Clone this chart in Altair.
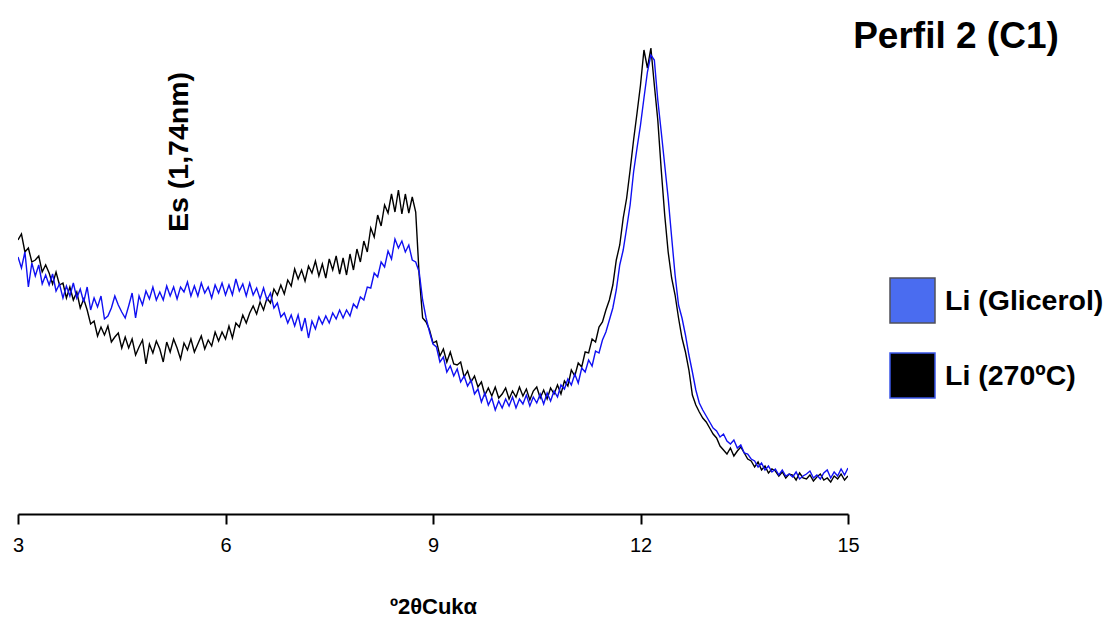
import altair as alt
import pandas as pd

# 2-theta grid of the scan (degrees), read every 0.05 deg
theta_start = 3.0
theta_step = 0.05

# Intensity (arbitrary counts), 3.00 -> 15.00 deg
li_270 = [
    274, 280, 262, 266, 252, 254, 258, 242, 249, 241,
    230, 242, 229, 231, 216, 227, 214, 222, 206, 215,
    204, 190, 193, 178, 187, 179, 188, 172, 177, 181,
    166, 177, 166, 175, 159, 167, 174, 150, 170, 161,
    173, 165, 152, 172, 162, 175, 166, 155, 171, 164,
    175, 162, 170, 178, 165, 174, 168, 182, 173, 182,
    175, 188, 176, 191, 187, 199, 191, 201, 208, 200,
    212, 204, 216, 211, 225, 219, 229, 220, 234, 228,
    245, 235, 244, 233, 248, 241, 253, 238, 250, 236,
    255, 244, 258, 240, 256, 239, 260, 244, 265, 252,
    273, 262, 286, 277, 299, 288, 309, 301, 320, 302,
    324, 300, 320, 301, 317, 302, 239, 196, 192, 184,
    171, 173, 158, 165, 152, 162, 150, 149, 152, 137,
    143, 132, 138, 127, 132, 119, 126, 118, 127, 116,
    120, 126, 115, 123, 117, 127, 118, 125, 114, 123,
    127, 116, 124, 115, 126, 120, 129, 120, 133, 128,
    144, 138, 151, 147, 162, 161, 175, 172, 187, 192,
    204, 214, 229, 254, 269, 296, 316, 344, 374, 401,
    429, 464, 446, 466, 429, 394, 344, 299, 262, 236,
    219, 196, 176, 162, 144, 119, 109, 102, 96, 92,
    86, 80, 76, 68, 64, 60, 66, 58, 63, 67,
    61, 55, 53, 47, 52, 44, 48, 41, 45, 43,
    38, 42, 36, 40, 39, 34, 41, 36, 35, 39,
    33, 37, 40, 34, 36, 32, 38, 35, 40, 34,
    38,
]

li_glicerol = [
    257, 246, 262, 227, 251, 238, 249, 230, 239, 229,
    240, 223, 230, 216, 228, 218, 231, 216, 225, 212,
    227, 204, 216, 207, 218, 195, 198, 206, 218, 209,
    202, 196, 208, 221, 196, 218, 209, 223, 215, 227,
    214, 222, 214, 228, 218, 227, 215, 227, 222, 232,
    218, 228, 218, 231, 221, 227, 216, 229, 221, 231,
    219, 229, 219, 235, 223, 230, 218, 231, 219, 226,
    215, 226, 214, 221, 206, 211, 197, 201, 191, 199,
    188, 199, 183, 196, 176, 193, 185, 197, 190, 198,
    191, 201, 195, 204, 196, 204, 198, 210, 206, 217,
    214, 227, 226, 241, 237, 252, 247, 263, 255, 275,
    266, 273, 262, 269, 254, 252, 242, 214, 196, 182,
    170, 167, 152, 157, 142, 148, 138, 145, 132, 138,
    128, 134, 120, 125, 112, 121, 109, 116, 104, 113,
    106, 115, 108, 117, 106, 115, 110, 119, 108, 117,
    111, 120, 110, 121, 113, 123, 117, 129, 125, 135,
    129, 140, 131, 146, 142, 154, 148, 163, 161, 174,
    182, 194, 206, 224, 249, 264, 286, 309, 342, 366,
    389, 416, 442, 459, 454, 414, 382, 349, 316, 277,
    239, 209, 196, 179, 159, 142, 124, 111, 104, 98,
    92, 86, 83, 77, 80, 73, 70, 74, 66, 69,
    61, 60, 55, 53, 47, 51, 44, 48, 42, 45,
    39, 44, 38, 40, 37, 42, 35, 38, 40, 43,
    36, 39, 35, 41, 44, 36, 42, 38, 45, 39,
    46,
]

series_names = ["Li (Glicerol)", "Li (270ºC)"]
line_colors = ["#1010f2", "#000000"]
swatch_fill = ["#4a6cf0", "#000000"]
swatch_stroke = ["#50505a", "#3a55e8"]
x_ticks = [3, 6, 9, 12, 15]

rows = []
for name, vals in ((series_names[0], li_glicerol), (series_names[1], li_270)):
    for i, v in enumerate(vals):
        rows.append({"theta": round(theta_start + theta_step * i, 2),
                     "counts": v, "series": name})
df = pd.DataFrame(rows)

x_enc = alt.X(
    "theta:Q",
    scale=alt.Scale(domain=[3, 15], nice=False, zero=False),
    axis=alt.Axis(
        values=x_ticks, title="º2θCukα", grid=False,
        domainColor="black", domainWidth=2,
        tickColor="black", tickWidth=2, tickSize=10,
        labelFont="Liberation Sans", labelFontSize=20, labelColor="black",
        labelPadding=11, labelFlush=False,
        titleFont="Liberation Sans", titleFontSize=22, titleFontWeight="bold",
        titleColor="black", titlePadding=41,
    ),
)
y_enc = alt.Y("counts:Q", scale=alt.Scale(domain=[0, 470], nice=False, zero=True), axis=None)

black_line = alt.Chart(df).transform_filter(
    alt.datum.series == series_names[1]
).mark_line(strokeWidth=1.4, clip=True, color=line_colors[1]).encode(x=x_enc, y=y_enc)

blue_line = alt.Chart(df).transform_filter(
    alt.datum.series == series_names[0]
).mark_line(strokeWidth=1.4, clip=True, color=line_colors[0]).encode(x=x_enc, y=y_enc)

legend_layer = alt.Chart(df).mark_square(size=0, filled=True).encode(
    x=x_enc, y=y_enc,
    fill=alt.Fill("series:N", scale=alt.Scale(domain=series_names, range=swatch_fill),
                  legend=alt.Legend(title=None)),
    stroke=alt.Stroke("series:N", scale=alt.Scale(domain=series_names, range=swatch_stroke),
                      legend=alt.Legend(title=None)),
)

title_df = pd.DataFrame({"label": ["Perfil 2 (C1)"]})
title_text = alt.Chart(title_df).mark_text(
    font="Liberation Sans", fontSize=37, fontWeight="bold", color="black",
    align="center", baseline="middle",
).encode(text="label:N", x=alt.value(938), y=alt.value(-7))

note_df = pd.DataFrame({"label": ["Es (1,74nm)"]})
note_text = alt.Chart(note_df).mark_text(
    font="Liberation Sans", fontSize=28.5, fontWeight="bold", color="black",
    align="center", baseline="middle", angle=270,
).encode(text="label:N", x=alt.value(161), y=alt.value(108))

chart = alt.layer(black_line, blue_line, legend_layer, title_text, note_text).properties(
    width=830, height=470,
    padding={"left": 10, "top": 36, "right": 257, "bottom": 104},
    autosize=alt.AutoSizeParams(type="none"),
).configure_view(stroke=None).configure_legend(
    orient="right", offset=-192, padding=233,
    symbolType="square", symbolSize=2025, symbolStrokeWidth=1.5, symbolOpacity=1,
    labelFont="Liberation Sans", labelFontSize=28.5, labelFontWeight="bold",
    labelColor="black", labelOffset=9, rowPadding=24, labelLimit=300,
)

chart.save("out.html", embed_options={"renderer": "svg", "actions": False})
